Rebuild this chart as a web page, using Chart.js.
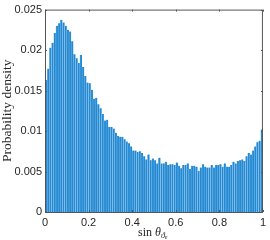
<!DOCTYPE html>
<html>
<head>
<meta charset="utf-8">
<script src="https://cdn.jsdelivr.net/npm/chart.js@4.4.0/dist/chart.umd.min.js"></script>
<style>
  html, body { margin: 0; padding: 0; background: #fff; }
  #wrap { width: 270px; height: 240px; }
</style>
</head>
<body>
<div id="wrap"><canvas id="hist"></canvas></div>
<script>
// histogram of sin(theta), 100 bins of width 0.01 on [0, 1]
const binWidth = 0.01;
const density = [
  0.0163, 0.0177, 0.0203, 0.0209, 0.0221, 0.0230, 0.0233, 0.0237, 0.0234, 0.0230,
  0.0225, 0.0223, 0.0211, 0.0195, 0.0190, 0.0184, 0.0194, 0.0179, 0.0168, 0.0160,
  0.0159, 0.0151, 0.0140, 0.0141, 0.0133, 0.0128, 0.0121, 0.0113, 0.0114, 0.0105,
  0.0105, 0.0103, 0.0098, 0.0094, 0.0093, 0.0093, 0.0090, 0.0087, 0.0085, 0.0081,
  0.0076, 0.0076, 0.0074, 0.0075, 0.0073, 0.0069, 0.0065, 0.0071, 0.0064, 0.0066,
  0.0064, 0.0060, 0.0067, 0.0060, 0.0060, 0.0062, 0.0058, 0.0059, 0.0059, 0.0058,
  0.0061, 0.0057, 0.0054, 0.0058, 0.0058, 0.0060, 0.0053, 0.0057, 0.0057, 0.0056,
  0.0051, 0.0055, 0.0059, 0.0056, 0.0055, 0.0055, 0.0058, 0.0055, 0.0058, 0.0058,
  0.0059, 0.0056, 0.0060, 0.0056, 0.0056, 0.0058, 0.0062, 0.0060, 0.0063, 0.0064,
  0.0065, 0.0063, 0.0069, 0.0073, 0.0071, 0.0076, 0.0081, 0.0086, 0.0088, 0.0102
];
const xTicks = [0, 0.2, 0.4, 0.6, 0.8, 1];
const yTicks = [0, 0.005, 0.01, 0.015, 0.02, 0.025];
const yLabel = 'Probability density';

const points = density.map((d, i) => ({ x: (i + 0.5) * binWidth, y: d }));

const axisColor = '#262626';
const tickFont = { family: 'Liberation Sans, Arial, sans-serif', size: 11 };

// MATLAB-like box with inward ticks, plus the LaTeX-ish axis labels
const boxPlugin = {
  id: 'box',
  afterDraw(chart) {
    const { ctx, chartArea: a, scales } = chart;
    ctx.save();
    ctx.strokeStyle = '#555';
    ctx.lineWidth = 1;
    ctx.strokeRect(a.left + 0.5, a.top + 0.5, a.right - a.left - 1, a.bottom - a.top);
    ctx.beginPath();
    xTicks.forEach(v => {
      const px = Math.round(scales.x.getPixelForValue(v)) + 0.5;
      ctx.moveTo(px, a.bottom); ctx.lineTo(px, a.bottom - 2);
      ctx.moveTo(px, a.top); ctx.lineTo(px, a.top + 2);
    });
    yTicks.forEach(v => {
      const py = Math.round(scales.y.getPixelForValue(v)) + 0.5;
      ctx.moveTo(a.left, py); ctx.lineTo(a.left + 2, py);
      ctx.moveTo(a.right, py); ctx.lineTo(a.right - 2, py);
    });
    ctx.stroke();

    // y label
    ctx.fillStyle = axisColor;
    ctx.font = '13.5px "Liberation Serif", "DejaVu Serif", serif';
    ctx.textAlign = 'center';
    ctx.textBaseline = 'middle';
    ctx.translate(7, (a.top + a.bottom) / 2);
    ctx.rotate(-Math.PI / 2);
    ctx.fillText(yLabel, 0, 0);
    ctx.restore();

    // x label: sin θ with subscript ϑ_e
    ctx.save();
    ctx.fillStyle = axisColor;
    ctx.textBaseline = 'alphabetic';
    const base = 236;
    let x = 138;
    ctx.font = '12px "Liberation Serif", serif';
    ctx.fillText('sin ', x, base);
    x += ctx.measureText('sin ').width;
    ctx.font = 'italic 12px "Liberation Serif", serif';
    ctx.fillText('θ', x, base);
    x += ctx.measureText('θ').width;
    ctx.font = 'italic 8px "Liberation Serif", serif';
    ctx.fillText('ϑ', x, base + 2);
    x += ctx.measureText('ϑ').width;
    ctx.font = 'italic 6px "Liberation Serif", serif';
    ctx.fillText('e', x, base + 3);
    ctx.restore();
  }
};

new Chart(document.getElementById('hist').getContext('2d'), {
  type: 'bar',
  data: {
    datasets: [{
      data: points,
      backgroundColor: '#2289d2',
      borderColor: '#93c5ea',
      borderWidth: { left: 0.6, right: 0, top: 0, bottom: 0 },
      borderSkipped: false,
      barPercentage: 1,
      categoryPercentage: 1
    }]
  },
  options: {
    responsive: true,
    maintainAspectRatio: false,
    animation: false,
    layout: { padding: { top: 8, right: 6, left: 0, bottom: 0 } },
    plugins: {
      legend: { display: false },
      tooltip: { enabled: false }
    },
    scales: {
      x: {
        type: 'linear',
        min: 0,
        max: 1,
        offset: false,
        grid: { display: false, drawTicks: false },
        border: { display: false },
        afterBuildTicks: s => { s.ticks = xTicks.map(v => ({ value: v })); },
        afterFit: s => { s.height = 28; },
        ticks: {
          color: axisColor,
          font: tickFont,
          padding: 4,
          maxRotation: 0,
          callback: v => String(v)
        }
      },
      y: {
        min: 0,
        max: 0.025,
        grid: { display: false, drawTicks: false },
        border: { display: false },
        afterBuildTicks: s => { s.ticks = yTicks.map(v => ({ value: v })); },
        afterFit: s => { s.width = 45; },
        ticks: {
          color: axisColor,
          font: tickFont,
          padding: 3,
          callback: v => String(v)
        }
      }
    }
  },
  plugins: [boxPlugin]
});
</script>
</body>
</html>
